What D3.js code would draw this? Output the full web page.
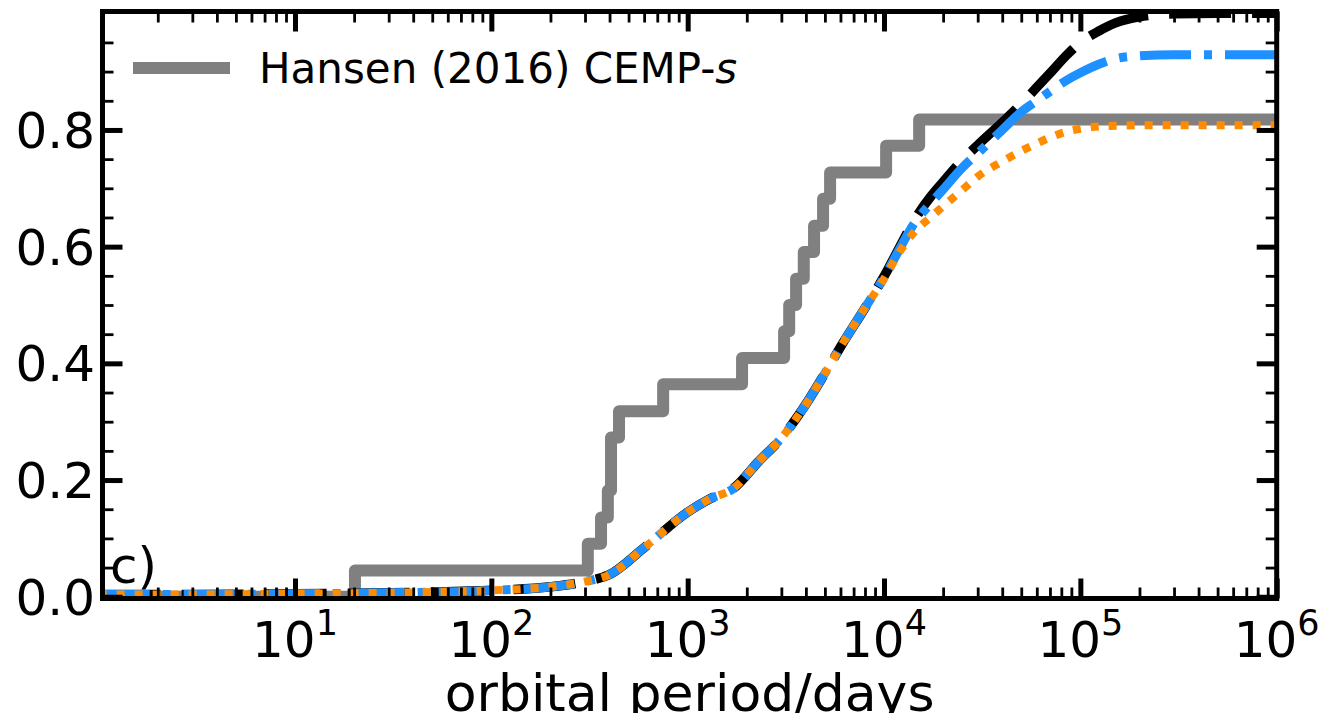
<!DOCTYPE html>
<html>
<head>
<meta charset="utf-8">
<script src="https://cdn.jsdelivr.net/npm/d3@7"></script>
<style>
  html, body { margin: 0; padding: 0; background: #fff; }
  svg { display: block; font-family: "DejaVu Sans", sans-serif; }
</style>
</head>
<body>
<svg id="chart" width="1340" height="713"></svg>
<script>
// Observed CEMP-s binaries (Hansen 2016): orbital periods in days, cumulative fraction of the sample
const hansenPeriods = [20.2, 310, 362, 392, 407, 407, 447, 750, 1892, 3098, 3289, 3566, 3902, 4402, 4893, 5313, 10250, 15100];
const hansenFraction = [0.045, 0.091, 0.136, 0.182, 0.227, 0.273, 0.318, 0.364, 0.409, 0.455, 0.500, 0.545, 0.591, 0.636, 0.682, 0.727, 0.773, 0.818];

// Model cumulative period distributions
const modelPeriods = [1, 3, 10, 20, 50, 100, 200, 300, 400, 600, 1000, 1300, 1700, 2300, 3000, 4000, 5000, 6000, 8000, 10000, 12000,
  14000, 17500, 20000, 25000, 30000, 40000, 50000, 60000, 70000, 85000, 100000, 125000, 150000, 200000, 300000, 500000, 1000000];
const modelBlack = [0.004, 0.004, 0.005, 0.006, 0.008, 0.011, 0.017, 0.026, 0.038, 0.084, 0.145, 0.168, 0.185, 0.232, 0.272, 0.330, 0.383, 0.428, 0.495, 0.549, 0.599,
  0.641, 0.688, 0.711, 0.748, 0.774, 0.813, 0.845, 0.873, 0.897, 0.928, 0.950, 0.970, 0.983, 0.994, 0.999, 1.000, 1.000];
const modelBlue = [0.004, 0.004, 0.005, 0.006, 0.008, 0.011, 0.017, 0.026, 0.038, 0.084, 0.145, 0.168, 0.185, 0.232, 0.272, 0.330, 0.383, 0.428, 0.495, 0.547, 0.596,
  0.636, 0.676, 0.698, 0.735, 0.760, 0.800, 0.831, 0.850, 0.866, 0.885, 0.898, 0.913, 0.922, 0.927, 0.929, 0.929, 0.929];
const modelOrange = [0.004, 0.004, 0.005, 0.006, 0.008, 0.011, 0.017, 0.026, 0.038, 0.084, 0.145, 0.168, 0.185, 0.232, 0.272, 0.330, 0.383, 0.428, 0.495, 0.545, 0.591,
  0.622, 0.652, 0.669, 0.697, 0.720, 0.746, 0.764, 0.777, 0.787, 0.797, 0.802, 0.806, 0.807, 0.808, 0.808, 0.808, 0.808];

// Tick values and labels
const xMajorTicks = [10, 100, 1000, 10000, 100000, 1000000];
const xMajorExponents = ["1", "2", "3", "4", "5", "6"];
const yMajorTicks = [0, 0.2, 0.4, 0.6, 0.8];
const yMajorLabels = ["0.0", "0.2", "0.4", "0.6", "0.8"];
const yMinorTicks = [0.05, 0.1, 0.15, 0.25, 0.3, 0.35, 0.45, 0.5, 0.55, 0.65, 0.7, 0.75, 0.85, 0.9, 0.95];
const legendLabel = "Hansen (2016) CEMP-";
const legendLabelItalic = "s";
const xAxisLabel = "orbital period/days";
const panelLabel = "c)";

const svg = d3.select("#chart");
const plotLeft = 102.5, plotRight = 1276.7, plotTop = 11.5, plotBottom = 598.5;

const x = d3.scaleLog().domain([1.046, 1e6]).range([plotLeft, plotRight]);
const y = d3.scaleLinear().domain([-0.003, 1.003]).range([plotBottom, plotTop]);

const xMinorTicks = [];
for (let k = 0; k < 6; k++) {
  for (let m = 2; m <= 9; m++) {
    const v = m * Math.pow(10, k);
    if (v > x.domain()[0] && v < x.domain()[1]) xMinorTicks.push(v);
  }
}

svg.append("defs").append("clipPath").attr("id", "plotClip")
  .append("rect").attr("x", plotLeft).attr("y", plotTop)
  .attr("width", plotRight - plotLeft).attr("height", plotBottom - plotTop);

const plot = svg.append("g").attr("clip-path", "url(#plotClip)");

// Observed stepped cumulative distribution
const hansenPts = [[1, 0]].concat(hansenPeriods.map((p, i) => [p, hansenFraction[i]]));
hansenPts.push([1e6, hansenFraction[hansenFraction.length - 1]]);
const stepLine = d3.line().x(d => x(d[0])).y(d => y(d[1])).curve(d3.curveStepAfter);
plot.append("path").attr("d", stepLine(hansenPts))
  .attr("fill", "none").attr("stroke", "#808080").attr("stroke-width", 12)
  .attr("stroke-linejoin", "round");

// Model curves
const modelLine = d3.line().x(d => x(d[0])).y(d => y(d[1])).curve(d3.curveMonotoneX);
const series = [
  { values: modelBlack, color: "#000000", width: 9.5, dash: "62,21" },
  { values: modelBlue, color: "#1e90ff", width: 9, dash: "51,13,8,13" },
  { values: modelOrange, color: "#ff8c00", width: 8, dash: "8,10" }
];
series.forEach(s => {
  plot.append("path")
    .attr("d", modelLine(modelPeriods.map((p, i) => [p, s.values[i]])))
    .attr("fill", "none").attr("stroke", s.color).attr("stroke-width", s.width)
    .attr("stroke-dasharray", s.dash).attr("stroke-linecap", "butt");
});

// Inward ticks on all four sides
function styleTicks(g, w) {
  g.select(".domain").remove();
  g.selectAll(".tick line").attr("stroke", "#000").attr("stroke-width", w);
  g.selectAll(".tick text").remove();
}
const majorLen = 20, minorLen = 11;
const axes = [
  [d3.axisBottom, x, xMajorTicks, majorLen, 5, `translate(0,${plotBottom})`],
  [d3.axisBottom, x, xMinorTicks, minorLen, 2.8, `translate(0,${plotBottom})`],
  [d3.axisTop, x, xMajorTicks, majorLen, 5, `translate(0,${plotTop})`],
  [d3.axisTop, x, xMinorTicks, minorLen, 2.8, `translate(0,${plotTop})`],
  [d3.axisLeft, y, yMajorTicks, majorLen, 5, `translate(${plotLeft},0)`],
  [d3.axisLeft, y, yMinorTicks, minorLen, 2.8, `translate(${plotLeft},0)`],
  [d3.axisRight, y, yMajorTicks, majorLen, 5, `translate(${plotRight},0)`],
  [d3.axisRight, y, yMinorTicks, minorLen, 2.8, `translate(${plotRight},0)`]
];
axes.forEach(([gen, scale, vals, len, w, tr]) => {
  svg.append("g").attr("transform", tr)
    .call(gen(scale).tickValues(vals).tickSize(-len).tickSizeOuter(0))
    .call(g => styleTicks(g, w));
});

// Spines
svg.append("rect").attr("x", plotLeft).attr("y", plotTop)
  .attr("width", plotRight - plotLeft).attr("height", plotBottom - plotTop)
  .attr("fill", "none").attr("stroke", "#000").attr("stroke-width", 5);

// Tick labels
const xLab = svg.append("g").attr("font-size", 50).attr("fill", "#000");
xMajorTicks.forEach((v, i) => {
  const t = xLab.append("text").attr("x", x(v)).attr("y", 656.7).attr("text-anchor", "middle");
  t.append("tspan").text("10");
  t.append("tspan").attr("dy", -22).attr("font-size", 35).text(xMajorExponents[i]);
});
const yLab = svg.append("g").attr("font-size", 50).attr("fill", "#000");
yMajorTicks.forEach((v, i) => {
  yLab.append("text").attr("x", 95).attr("y", y(v) + 18).attr("text-anchor", "end").text(yMajorLabels[i]);
});

// Axis label (runs past the lower edge of the figure)
svg.append("text").attr("x", (plotLeft + plotRight) / 2).attr("y", 711).attr("text-anchor", "middle")
  .attr("font-size", 52).text(xAxisLabel);

// Panel label
svg.append("text").attr("x", 110).attr("y", 583).attr("font-size", 50).text(panelLabel);

// Legend
svg.append("line").attr("x1", 133).attr("x2", 230).attr("y1", 68).attr("y2", 68)
  .attr("stroke", "#808080").attr("stroke-width", 12);
const lt = svg.append("text").attr("x", 259).attr("y", 83).attr("font-size", 42);
lt.append("tspan").text(legendLabel);
lt.append("tspan").attr("font-style", "italic").text(legendLabelItalic);
</script>
</body>
</html>
